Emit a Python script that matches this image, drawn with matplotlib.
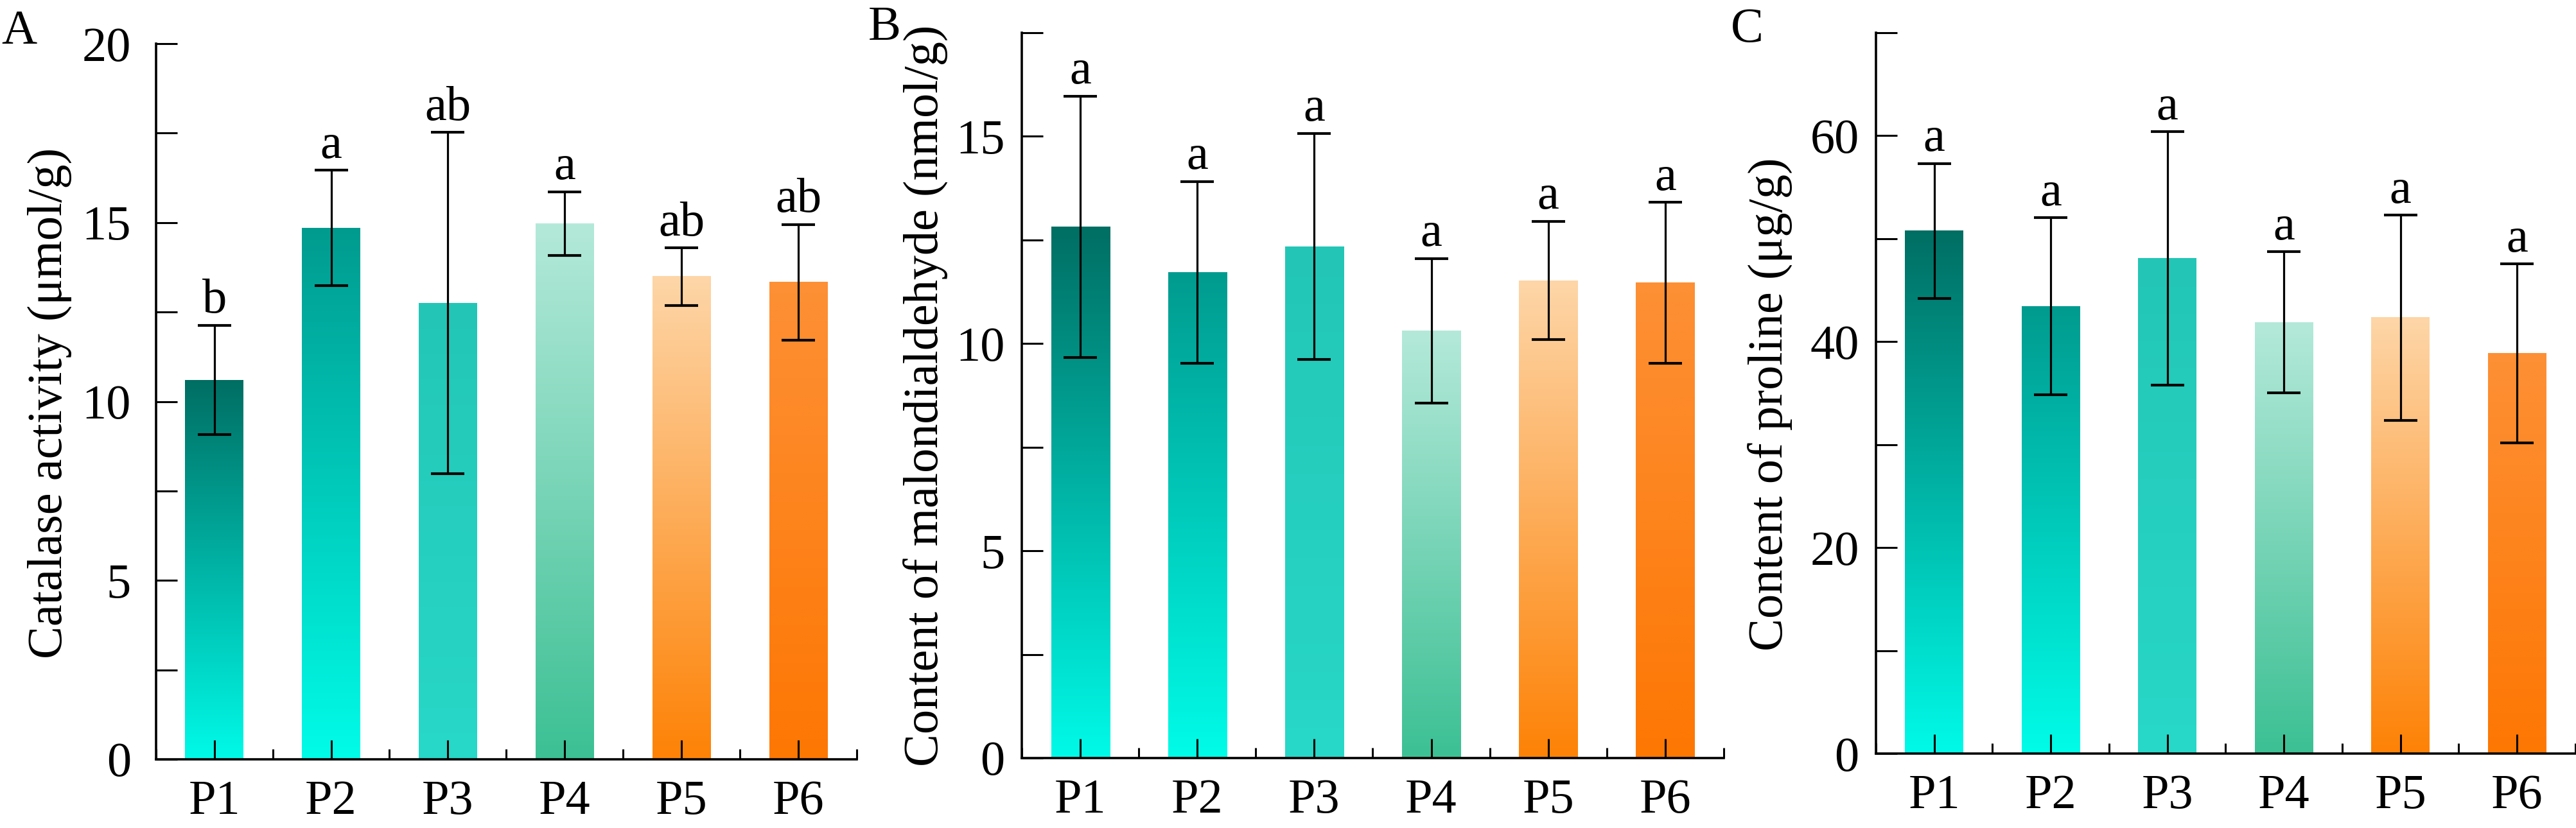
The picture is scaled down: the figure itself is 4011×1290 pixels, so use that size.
import numpy as np
import matplotlib
matplotlib.use("Agg")
import matplotlib.pyplot as plt
from matplotlib.colors import LinearSegmentedColormap
from matplotlib.ticker import MultipleLocator

plt.rcParams['font.family'] = ['Liberation Serif', 'DejaVu Serif']
plt.rcParams['font.size'] = 55

# --- data ---
groups = ["P1", "P2", "P3", "P4", "P5", "P6"]

catalase = [10.60, 14.85, 12.75, 14.97, 13.49, 13.33]
catalase_err = [1.53, 1.61, 4.77, 0.89, 0.80, 1.62]
catalase_sig = ["b", "a", "ab", "a", "ab", "ab"]

mda = [12.82, 11.72, 12.34, 10.31, 11.52, 11.47]
mda_err = [3.15, 2.19, 2.73, 1.74, 1.43, 1.94]
mda_sig = ["a", "a", "a", "a", "a", "a"]

proline = [50.74, 43.42, 48.08, 41.88, 42.34, 38.86]
proline_err = [6.55, 8.60, 12.30, 6.84, 9.96, 8.70]
proline_sig = ["a", "a", "a", "a", "a", "a"]

# gradient colours per bar (top, bottom)
bar_top = ['#006E63', '#009B8F', '#23C6B6', '#B4E9D9', '#FED6A8', '#FD9035']
bar_bottom = ['#00FAE8', '#00FCE8', '#28D8C8', '#3CC094', '#FD8206', '#FD7703']

W, H = 4012, 1290
fig = plt.figure(figsize=(W / 100, H / 100), dpi=100)


def px_axes(left, right, top, bottom):
    return fig.add_axes([left / W, 1 - bottom / H, (right - left) / W, (bottom - top) / H])


panels = [
    dict(box=(242.7, 1334, 68, 1183), vals=catalase, err=catalase_err, sig=catalase_sig,
         ylim=(0, 20), major=5, minor=2.5, ylabel="Catalase activity (μmol/g)",
         ypad=28, lab=(112, 628), letter="A", lpos=(2, 68)),
    dict(box=(1591, 2684, 51, 1181), vals=mda, err=mda_err, sig=mda_sig,
         ylim=(0, 17.5), major=5, minor=2.5, ylabel="Content of malondialdehyde (nmol/g)",
         ypad=19, lab=(1477, 616), letter="B", lpos=(1352, 62)),
    dict(box=(2921, 4010, 51, 1174), vals=proline, err=proline_err, sig=proline_sig,
         ylim=(0, 70), major=20, minor=10, ylabel="Content of proline (μg/g)",
         ypad=19, lab=(2792, 630), letter="C", lpos=(2695, 65)),
]

grad = np.linspace(0, 1, 256).reshape(-1, 1)
x = np.arange(len(groups))

for p in panels:
    ax = px_axes(*p["box"])
    bars = ax.bar(x, p["vals"], width=0.5, facecolor='none', edgecolor='none', zorder=1)
    # vertical gradient fill for each bar
    for bar, top, bot in zip(bars, bar_top, bar_bottom):
        x0, y0 = bar.get_x(), bar.get_y()
        cmap = LinearSegmentedColormap.from_list("g", [bot, top])
        ax.imshow(grad, cmap=cmap, origin='lower', aspect='auto', zorder=1,
                  extent=[x0, x0 + bar.get_width(), y0, y0 + bar.get_height()])
    ax.errorbar(x, p["vals"], yerr=p["err"], fmt='none', ecolor='black',
                elinewidth=2.3, capsize=19, capthick=3, zorder=3)
    for xi, v, e, s in zip(x, p["vals"], p["err"], p["sig"]):
        ax.annotate(s, xy=(xi, v + e), xytext=(0, 14), textcoords='offset points',
                    ha='center', va='baseline', fontsize=55)

    ax.set_xlim(-0.5, 5.5)
    ax.set_ylim(*p["ylim"])
    ax.set_xticks(x)
    ax.set_xticklabels(groups)
    ax.xaxis.set_minor_locator(MultipleLocator(1, offset=0.5))
    ax.yaxis.set_major_locator(MultipleLocator(p["major"]))
    ax.yaxis.set_minor_locator(MultipleLocator(p["minor"]))

    for side in ["top", "right"]:
        ax.spines[side].set_visible(False)
    for side in ["left", "bottom"]:
        ax.spines[side].set_linewidth(2.6)

    ax.tick_params(axis='x', which='major', direction='in', length=21.6, width=2.2, pad=23)
    ax.tick_params(axis='x', which='minor', direction='in', length=11.5, width=2.2)
    ax.tick_params(axis='y', which='both', direction='in', length=23.8, width=2.2, pad=p["ypad"])

    ax.set_ylabel(p["ylabel"])
    ax.yaxis.set_label_coords(p["lab"][0] / W, 1 - p["lab"][1] / H, transform=fig.transFigure)

    fig.text(p["lpos"][0] / W, 1 - p["lpos"][1] / H, p["letter"], ha='left', va='baseline', fontsize=55)

fig.savefig("out.png", dpi=100, facecolor='white')
